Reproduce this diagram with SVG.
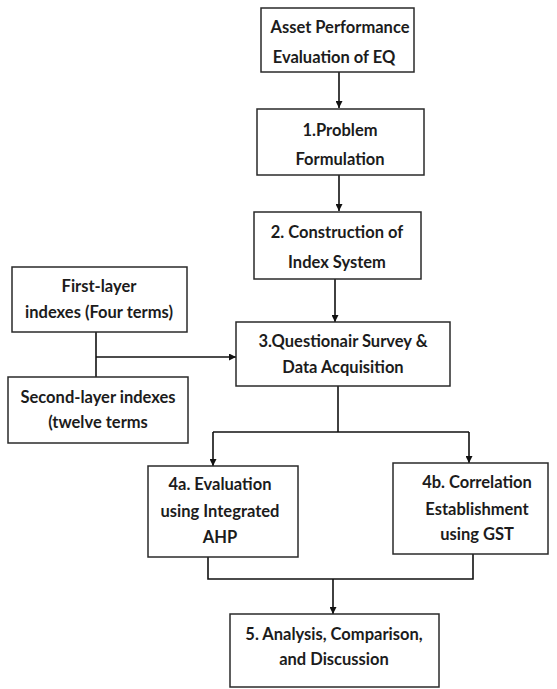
<svg xmlns="http://www.w3.org/2000/svg" width="557" height="689" viewBox="0 0 557 689">
<defs>
<style>
.box{fill:#fff;stroke:#2a2a2a;stroke-width:1.5}
.t{font-family:Lato,"Liberation Sans",sans-serif;font-weight:bold;font-size:16.5px;fill:#1c1c1c;text-anchor:middle}
.ln{fill:none;stroke:#111;stroke-width:1.6}
</style>
<marker id="ah" viewBox="0 0 10 10" refX="10" refY="5" markerWidth="7" markerHeight="7" markerUnits="userSpaceOnUse" orient="auto"><path d="M0,0 L10,5 L0,10 z" fill="#111"/></marker>
</defs>
<rect width="557" height="689" fill="#fff"/>
<g id="connectors">
<path class="ln" d="M339,72 V108" marker-end="url(#ah)"/>
<path class="ln" d="M339,175 V211" marker-end="url(#ah)"/>
<path class="ln" d="M335,279 V322" marker-end="url(#ah)"/>
<path class="ln" d="M96,332 V377"/>
<path class="ln" d="M96,357 H236" marker-end="url(#ah)"/>
<path class="ln" d="M338,386 V432"/>
<path class="ln" d="M213,432 H469"/>
<path class="ln" d="M213,432 V466" marker-end="url(#ah)"/>
<path class="ln" d="M469,432 V463" marker-end="url(#ah)"/>
<path class="ln" d="M208,557 V579 H473 V554"/>
<path class="ln" d="M333,579 V614" marker-end="url(#ah)"/>
</g>
<g id="n1"><rect class="box" x="261" y="8" width="153" height="64"/><text class="t" x="340" y="33">Asset Performance</text><text class="t" x="334" y="63">Evaluation of EQ</text></g>
<g id="n2"><rect class="box" x="257" y="109" width="167" height="66"/><text class="t" x="340" y="136">1.Problem</text><text class="t" x="340" y="165">Formulation</text></g>
<g id="n3"><rect class="box" x="254" y="212" width="167" height="67"/><text class="t" x="337" y="238">2. Construction of</text><text class="t" x="337" y="268">Index System</text></g>
<g id="n_first"><rect class="box" x="12" y="267" width="175" height="65"/><text class="t" x="99" y="292">First-layer</text><text class="t" x="99" y="318">indexes (Four terms)</text></g>
<g id="n_second"><rect class="box" x="8" y="377" width="180" height="66"/><text class="t" x="98" y="403">Second-layer indexes</text><text class="t" x="98" y="428">(twelve terms</text></g>
<g id="n4"><rect class="box" x="236" y="322" width="214" height="64"/><text class="t" x="343" y="347">3.Questionair Survey &amp;</text><text class="t" x="343" y="373">Data Acquisition</text></g>
<g id="n4a"><rect class="box" x="148" y="466" width="150" height="91"/><text class="t" x="220" y="490">4a. Evaluation</text><text class="t" x="220" y="517">using Integrated</text><text class="t" x="220" y="543">AHP</text></g>
<g id="n4b"><rect class="box" x="393" y="463" width="155" height="91"/><text class="t" x="477" y="488">4b. Correlation</text><text class="t" x="477" y="515">Establishment</text><text class="t" x="477" y="540">using GST</text></g>
<g id="n5"><rect class="box" x="230" y="614" width="209" height="73"/><text class="t" x="334" y="640">5. Analysis, Comparison,</text><text class="t" x="334" y="665">and Discussion</text></g>
</svg>
